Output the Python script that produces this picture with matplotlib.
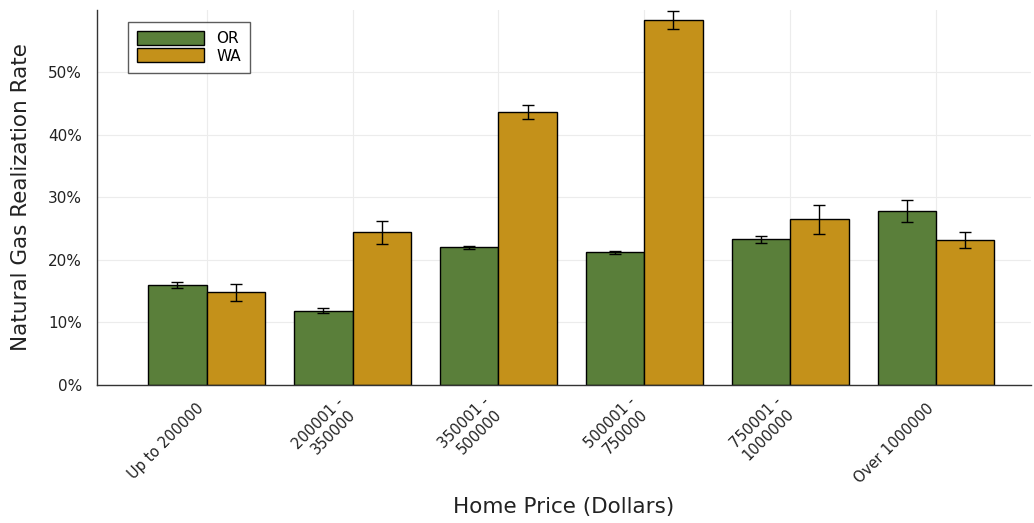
import matplotlib
matplotlib.use("Agg")
import matplotlib.pyplot as plt
import matplotlib.transforms as mtransforms
import numpy as np
from matplotlib.ticker import FuncFormatter

price_bins = ["Up to 200000", "200001 -\n350000", "350001 -\n500000",
              "500001 -\n750000", "750001 -\n1000000", "Over 1000000"]
or_rate = [0.160, 0.119, 0.220, 0.212, 0.233, 0.278]
or_err = [0.005, 0.004, 0.002, 0.002, 0.006, 0.018]
wa_rate = [0.148, 0.244, 0.437, 0.584, 0.265, 0.232]
wa_err = [0.013, 0.018, 0.011, 0.014, 0.023, 0.013]

green = "#5a7f3a"
gold = "#c4911a"

fig = plt.figure(figsize=(10.34, 5.23), dpi=100)
ax = fig.add_axes([0.094, 0.264, 0.903, 0.717])

x = np.arange(len(price_bins))
w = 0.4
err_kw = dict(ecolor="black", elinewidth=1.0, capsize=4, capthick=1.0)
ax.bar(x - w / 2, or_rate, w, yerr=or_err, color=green, edgecolor="black",
       linewidth=1.0, label="OR", error_kw=err_kw, zorder=2)
ax.bar(x + w / 2, wa_rate, w, yerr=wa_err, color=gold, edgecolor="black",
       linewidth=1.0, label="WA", error_kw=err_kw, zorder=2)

ax.set_xlim(-0.75, 5.65)
ax.set_ylim(0, 0.6)
ax.set_yticks([0, 0.1, 0.2, 0.3, 0.4, 0.5])
ax.yaxis.set_major_formatter(FuncFormatter(lambda v, _: f"{v * 100:.0f}%"))
ax.set_xticks(x)
ax.set_xticklabels(price_bins, rotation=45, ha="right", va="center",
                   rotation_mode="anchor", fontsize=10.5, color="#222222")
ax.tick_params(axis="y", labelsize=11, labelcolor="#222222", length=0, pad=11)
ax.tick_params(axis="x", length=0, pad=15)

# nudge the rotated labels a little to the left
shift = mtransforms.ScaledTranslation(-0.05, 0, fig.dpi_scale_trans)
for lbl in ax.get_xticklabels():
    lbl.set_transform(lbl.get_transform() + shift)

ax.grid(True, color="#ececec", linewidth=0.8, zorder=0)
ax.set_axisbelow(True)
for side in ["top", "right"]:
    ax.spines[side].set_visible(False)
for side in ["left", "bottom"]:
    ax.spines[side].set_color("#333333")
    ax.spines[side].set_linewidth(1.0)

ax.set_ylabel("Natural Gas Realization Rate", fontsize=15.5, color="#222222", labelpad=12)
ax.set_xlabel("Home Price (Dollars)", fontsize=15.5, color="#222222", labelpad=8)

leg = ax.legend(loc="upper left", bbox_to_anchor=(0.033, 0.968), borderaxespad=0,
                fontsize=11, frameon=True, fancybox=False, edgecolor="#333333",
                handlelength=4.4, handleheight=1.0, borderpad=0.6,
                labelspacing=0.15, handletextpad=0.8)
leg.get_frame().set_linewidth(1.0)

fig.savefig("out.png", dpi=100)
